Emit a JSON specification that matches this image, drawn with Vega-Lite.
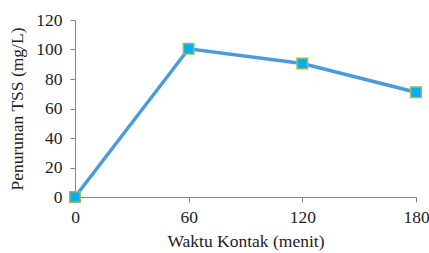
{
  "$schema": "https://vega.github.io/schema/vega-lite/v6.json",
  "width": 341,
  "height": 177,
  "autosize": {"type": "none"},
  "padding": {"left": 75, "top": 20, "right": 13, "bottom": 56},
  "background": "white",
  "config": {
    "view": {"stroke": null}
  },
  "data": {
    "values": [
      {"waktu": 0, "tss": 0},
      {"waktu": 60, "tss": 100.5},
      {"waktu": 120, "tss": 90.5},
      {"waktu": 180, "tss": 71}
    ]
  },
  "encoding": {
    "x": {
      "field": "waktu", "type": "quantitative",
      "scale": {"domain": [0, 180], "nice": false},
      "axis": {"values": [0, 60, 120, 180], "title": "Waktu Kontak (menit)", "labelPadding": 6, "titlePadding": 7,
        "grid": false, "domainColor": "#868686", "tickColor": "#868686", "tickSize": 5, "labelOverlap": false, "labelFlush": false,
        "labelFont": "Times New Roman, serif", "titleFont": "Times New Roman, serif", "labelFontSize": 17.5, "titleFontSize": 17.5,
        "labelColor": "#222222", "titleColor": "#222222", "titleFontWeight": "normal"}
    },
    "y": {
      "field": "tss", "type": "quantitative",
      "scale": {"domain": [0, 120], "nice": false},
      "axis": {"values": [0, 20, 40, 60, 80, 100, 120], "tickCount": 7, "title": "Penurunan TSS (mg/L)", "labelPadding": 8, "titlePadding": 9,
        "grid": false, "domainColor": "#868686", "tickColor": "#868686", "tickSize": 5, "labelOverlap": false, "labelFlush": false,
        "labelFont": "Times New Roman, serif", "titleFont": "Times New Roman, serif", "labelFontSize": 17.5, "titleFontSize": 17.5,
        "labelColor": "#222222", "titleColor": "#222222", "titleFontWeight": "normal"}
    }
  },
  "layer": [
    {
      "mark": {"type": "line", "color": "#4a9bdc", "strokeWidth": 3.5}
    },
    {
      "mark": {"type": "square", "filled": true, "fill": "#00b0f0", "stroke": "#9bbb59", "strokeWidth": 1.5, "size": 110, "opacity": 1}
    }
  ]
}
